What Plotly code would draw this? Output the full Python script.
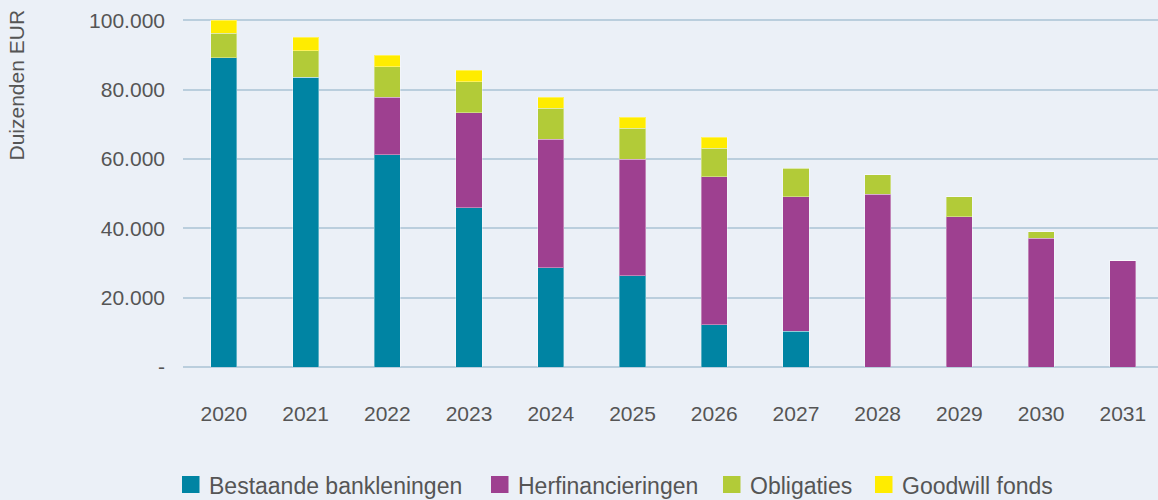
import plotly.graph_objects as go

years = ["2020", "2021", "2022", "2023", "2024", "2025", "2026", "2027", "2028", "2029", "2030", "2031"]
bestaande = [89200, 83600, 61300, 46000, 28700, 26400, 12200, 10300, 0, 0, 0, 0]
herfinanciering = [0, 0, 16600, 27300, 37000, 33600, 42700, 38900, 49900, 43400, 37100, 30700]
obligaties = [7100, 7600, 8800, 9000, 9000, 8900, 8200, 8200, 5600, 5800, 1900, 0]
goodwill = [3700, 3900, 3300, 3300, 3200, 3200, 3200, 0, 0, 0, 0, 0]

series_names = ["Bestaande bankleningen", "Herfinancieringen", "Obligaties", "Goodwill fonds"]
series_values = [bestaande, herfinanciering, obligaties, goodwill]
colors = ["#0084A3", "#9E4090", "#B2CB38", "#FFEC00"]

y_tickvals = [0, 20000, 40000, 60000, 80000, 100000]
y_ticktext = ["-", "20.000", "40.000", "60.000", "80.000", "100.000"]

BG = "#EBF0F7"
GRID = "#BACEDD"
TXT = "#555555"
FONT = "Liberation Sans, Arial, sans-serif"

fig = go.Figure()
for name, vals, col in zip(series_names, series_values, colors):
    fig.add_trace(go.Bar(
        x=years, y=vals, name=name, width=0.32,
        marker=dict(color=col, line=dict(color="rgba(255,255,255,0.35)", width=1)),
        showlegend=False,
    ))

W, H = 1158, 500
ml, mr, mt, mb = 183, 0, 17, 133
pw = W - ml - mr
ph = H - mt - mb

def px_x(px):
    return (px - ml) / pw

def px_y(py):
    return (H - mb - py) / ph

# custom legend (squares + labels)
leg_sq_x = [182, 491, 723, 875]
leg_txt_x = [207, 516, 748, 900]
leg_y_top, leg_y_bot = 476, 493
shapes = []
annotations = []
for name, col, sx, tx in zip(series_names, colors, leg_sq_x, leg_txt_x):
    shapes.append(dict(type="rect", xref="paper", yref="paper",
                       x0=px_x(sx), x1=px_x(sx + 17.5),
                       y0=px_y(leg_y_bot), y1=px_y(leg_y_top),
                       fillcolor=col, line=dict(width=0), layer="above"))
    annotations.append(dict(text=name, xref="paper", yref="paper",
                            x=px_x(tx), y=px_y(486), xanchor="left", yanchor="middle",
                            showarrow=False, font=dict(size=23, color=TXT, family=FONT)))

annotations.append(dict(text="Duizenden EUR", xref="paper", yref="paper",
                        x=px_x(16), y=px_y(8), xanchor="center", yanchor="top",
                        textangle=-90, showarrow=False,
                        font=dict(size=21, color=TXT, family=FONT)))

fig.update_layout(
    barmode="stack",
    width=W, height=H,
    margin=dict(l=ml, r=mr, t=mt, b=mb, pad=0),
    paper_bgcolor=BG, plot_bgcolor=BG,
    font=dict(family=FONT, color=TXT, size=21),
    shapes=shapes, annotations=annotations,
    xaxis=dict(range=[-0.5, 11.43], showgrid=False, zeroline=False, showline=False,
               ticks="", ticklabelstandoff=32, tickfont=dict(size=21, color=TXT)),
    yaxis=dict(range=[0, 101000], tickvals=y_tickvals, ticktext=y_ticktext,
               showgrid=True, gridcolor=GRID, gridwidth=1.5,
               zeroline=True, zerolinecolor=GRID, zerolinewidth=1.5,
               showline=False, ticks="", ticklabelstandoff=17,
               tickfont=dict(size=21, color=TXT)),
    bargap=0.68,
)

fig.write_html("out.html")
